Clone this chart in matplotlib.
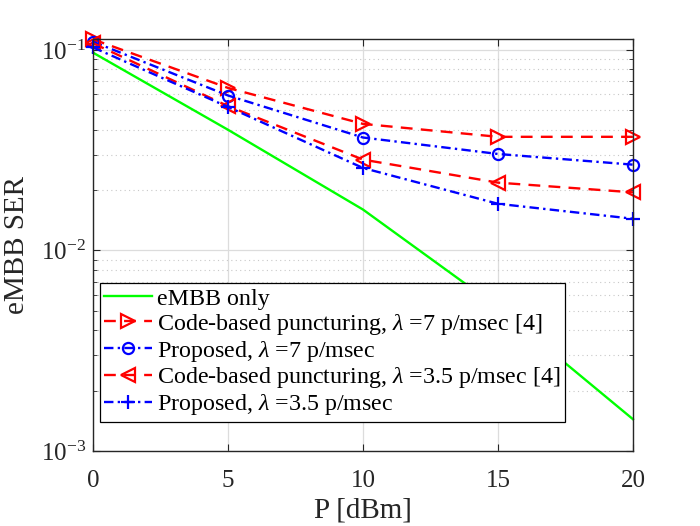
import matplotlib
matplotlib.use("Agg")
import matplotlib.pyplot as plt
from matplotlib.ticker import LogLocator, NullFormatter, FixedLocator

plt.rcParams['font.family'] = ['Liberation Serif', 'DejaVu Serif']
plt.rcParams['mathtext.fontset'] = 'custom'
plt.rcParams['mathtext.rm'] = 'Liberation Serif'
plt.rcParams['mathtext.it'] = 'Liberation Serif:italic'
plt.rcParams['mathtext.bf'] = 'Liberation Serif:bold'

P = [0, 5, 10, 15, 20]
embb_only = [0.097, 0.040, 0.016, 0.0052, 0.00144]
code_7 = [0.113, 0.0647, 0.0428, 0.0369, 0.0369]
prop_7 = [0.110, 0.0593, 0.0366, 0.0303, 0.0268]
code_35 = [0.108, 0.0525, 0.0284, 0.0218, 0.0195]
prop_35 = [0.103, 0.0520, 0.0258, 0.0171, 0.0144]

labels = ["eMBB only",
          r"Code-based puncturing, $\lambda$ =7 p/msec [4]",
          r"Proposed, $\lambda$ =7 p/msec",
          r"Code-based puncturing, $\lambda$ =3.5 p/msec [4]",
          r"Proposed, $\lambda$ =3.5 p/msec"]

fig = plt.figure(figsize=(7, 5.26), dpi=100)
ax = fig.add_axes([0.1329, 0.1426, 0.9043 - 0.1329, 0.9259 - 0.1426])

lw = 1.7
dash = (0, (5, 3.5))
dashdot = (0, (4, 1.8, 1, 1.8))
ax.semilogy(P, embb_only, color=(0, 1, 0), lw=lw, label=labels[0], clip_on=False)
ax.semilogy(P, code_7, color='red', ls=dash, lw=lw, marker='>', ms=10,
            mfc='none', mew=1.6, label=labels[1], clip_on=False)
ax.semilogy(P, prop_7, color='blue', ls=dashdot, lw=lw, marker='o', ms=8,
            mfc='none', mew=1.6, label=labels[2], clip_on=False)
ax.semilogy(P, code_35, color='red', ls=dash, lw=lw, marker='<', ms=10,
            mfc='none', mew=1.6, label=labels[3], clip_on=False)
ax.semilogy(P, prop_35, color='blue', ls=dashdot, lw=lw, marker='+', ms=10,
            mew=1.6, label=labels[4], clip_on=False)

ax.set_xlim(0, 20)
ax.set_ylim(1e-3, 0.1135)
ax.xaxis.set_major_locator(FixedLocator([0, 5, 10, 15, 20]))
ax.yaxis.set_major_locator(LogLocator(base=10, numticks=10))
ax.yaxis.set_minor_locator(LogLocator(base=10, subs=range(2, 10), numticks=10))
ax.yaxis.set_minor_formatter(NullFormatter())

ax.grid(True, which='major', color='#dcdcdc', lw=0.9, ls='-')
ax.grid(True, which='minor', axis='y', color='#c8c8c8', lw=0.8, ls=(0, (1, 3)))
ax.set_axisbelow(True)

ax.tick_params(which='both', direction='in', top=True, right=True, labelsize=18, colors='#262626')
ax.tick_params(which='major', length=5, width=0.8)
ax.tick_params(which='minor', length=3, width=0.6)
ax.tick_params(axis='x', pad=14)
ax.tick_params(axis='y', pad=5)
for s in ax.spines.values():
    s.set_color('#262626')
    s.set_linewidth(1.0)

ax.set_xlabel("P [dBm]", fontsize=21, color='#262626', labelpad=4)
ax.set_ylabel("eMBB SER", fontsize=21, color='#262626', labelpad=8)

leg = ax.legend(loc='lower left', bbox_to_anchor=(0.012, 0.07), fontsize=17.3, frameon=True,
                fancybox=False, edgecolor='black', framealpha=1, handlelength=2.0,
                handletextpad=0.2, borderpad=0.2, labelspacing=0.08, borderaxespad=0)
leg.get_frame().set_linewidth(0.9)

fig.savefig("out.png", dpi=100)
